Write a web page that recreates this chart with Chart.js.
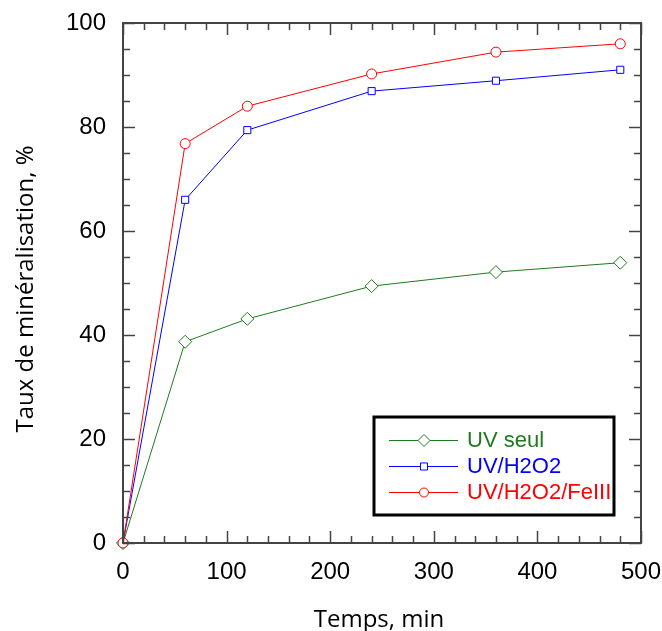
<!DOCTYPE html>
<html>
<head>
<meta charset="utf-8">
<script src="https://cdn.jsdelivr.net/npm/chart.js@4.4.0/dist/chart.umd.min.js"></script>
<style>
  html, body { margin: 0; padding: 0; background: #fff; }
  #wrap { width: 662px; height: 631px; position: relative; }
</style>
</head>
<body>
<div id="wrap"><canvas id="graphe"></canvas></div>
<script>
// données
const temps = [0, 60, 120, 240, 360, 480];
const uvSeul = [0, 38.7, 43.1, 49.4, 52.1, 53.9];
const uvH2O2 = [0, 66.0, 79.4, 86.9, 88.9, 91.0];
const uvH2O2Fe = [0, 76.8, 84.0, 90.2, 94.4, 96.0];
const xTicks = [0, 100, 200, 300, 400, 500];
const yTicks = [0, 20, 40, 60, 80, 100];

const vert = '#1f7a1f', bleu = '#0000ff', rouge = '#ff0000';

function pts(ys) {
    return temps.map((t, i) => ({ x: t, y: ys[i] }));
}

// ticks intérieurs sur les 4 côtés + titres des axes + légende
const cadre = {
    id: 'cadre',
    afterDatasetsDraw(chart) {
        const ctx = chart.ctx;
        const a = chart.chartArea;
        const sx = chart.scales.x, sy = chart.scales.y;
        ctx.save();
        ctx.strokeStyle = '#444';
        ctx.lineWidth = 1.5;
        ctx.beginPath();
        for (let v = 0; v <= 500; v += 20) {
            const px = Math.round(sx.getPixelForValue(v)) + 0.5;
            const l = v % 100 === 0 ? 12 : 7;
            ctx.moveTo(px, a.bottom); ctx.lineTo(px, a.bottom - l);
            ctx.moveTo(px, a.top); ctx.lineTo(px, a.top + l);
        }
        for (let v = 0; v <= 100; v += 5) {
            const py = Math.round(sy.getPixelForValue(v)) + 0.5;
            const l = v % 20 === 0 ? 12 : 7;
            ctx.moveTo(a.left, py); ctx.lineTo(a.left + l, py);
            ctx.moveTo(a.right, py); ctx.lineTo(a.right - l, py);
        }
        ctx.stroke();
        ctx.lineWidth = 2;
        ctx.strokeRect(a.left, a.top, a.right - a.left, a.bottom - a.top);

        // titres
        ctx.fillStyle = '#000';
        ctx.font = '24px "Open Sans"';
        ctx.textAlign = 'center';
        ctx.textBaseline = 'alphabetic';
        ctx.fillText('Temps, min', 379, 627);
        ctx.translate(33, 289);
        ctx.rotate(-Math.PI / 2);
        ctx.fillText('Taux de minéralisation, %', 0, 0);
        ctx.restore();

        // légende
        ctx.save();
        ctx.fillStyle = '#fff';
        ctx.fillRect(374, 417, 240, 98);
        ctx.strokeStyle = '#000';
        ctx.lineWidth = 3;
        ctx.strokeRect(374, 417, 240, 98);
        const rows = [
            { label: 'UV seul', color: vert, style: 'rectRot', r: 6, y: 440 },
            { label: 'UV/H2O2', color: bleu, style: 'rect', r: 5, y: 466 },
            { label: 'UV/H2O2/FeIII', color: rouge, style: 'circle', r: 4.5, y: 492 }
        ];
        ctx.font = '22px "Liberation Sans", Arial';
        ctx.textAlign = 'left';
        ctx.textBaseline = 'middle';
        rows.forEach(r => {
            ctx.strokeStyle = r.color;
            ctx.lineWidth = 1;
            ctx.beginPath();
            ctx.moveTo(389, r.y + 0.5); ctx.lineTo(458, r.y + 0.5);
            ctx.stroke();
            ctx.fillStyle = '#fff';
            Chart.helpers.drawPoint(ctx, { pointStyle: r.style, radius: r.r, borderWidth: 1 }, 424, r.y + 0.5);
            ctx.fillStyle = r.color;
            ctx.fillText(r.label, 467, r.y + 1);
        });
        ctx.restore();
    }
};

function serie(label, ys, color, style, radius, order) {
    return {
        label: label,
        data: pts(ys),
        borderColor: color,
        backgroundColor: '#fff',
        borderWidth: 1,
        pointStyle: style,
        pointRadius: radius,
        pointBorderWidth: 1,
        pointBorderColor: color,
        pointBackgroundColor: '#fff',
        tension: 0,
        clip: false,
        order: order
    };
}

const tickFont = { family: '"Liberation Sans", Arial', size: 24 };

const ctx = document.getElementById('graphe').getContext('2d');
new Chart(ctx, {
    type: 'line',
    data: {
        datasets: [
            serie('UV/H2O2/FeIII', uvH2O2Fe, rouge, 'circle', 5, 1),
            serie('UV/H2O2', uvH2O2, bleu, 'rect', 5, 2),
            serie('UV seul', uvSeul, vert, 'rectRot', 6.5, 3)
        ]
    },
    options: {
        responsive: true,
        maintainAspectRatio: false,
        animation: false,
        layout: { padding: { top: 23, right: 21, left: 0, bottom: 0 } },
        plugins: {
            legend: { display: false },
            tooltip: { enabled: false }
        },
        scales: {
            x: {
                type: 'linear',
                min: 0, max: 500,
                afterFit(scale) {
                    scale.height = 88;
                    scale.paddingLeft = 0;
                    scale.paddingRight = 0;
                },
                afterBuildTicks(scale) { scale.ticks = xTicks.map(v => ({ value: v })); },
                grid: { display: false },
                border: { display: false },
                ticks: { padding: 7, color: '#000', font: tickFont, maxRotation: 0 }
            },
            y: {
                min: 0, max: 100,
                afterFit(scale) {
                    scale.width = 123;
                    scale.paddingTop = 0;
                    scale.paddingBottom = 0;
                },
                afterBuildTicks(scale) { scale.ticks = yTicks.map(v => ({ value: v })); },
                grid: { display: false },
                border: { display: false },
                ticks: { padding: 9, color: '#000', font: tickFont }
            }
        }
    },
    plugins: [cadre]
});
</script>
</body>
</html>
